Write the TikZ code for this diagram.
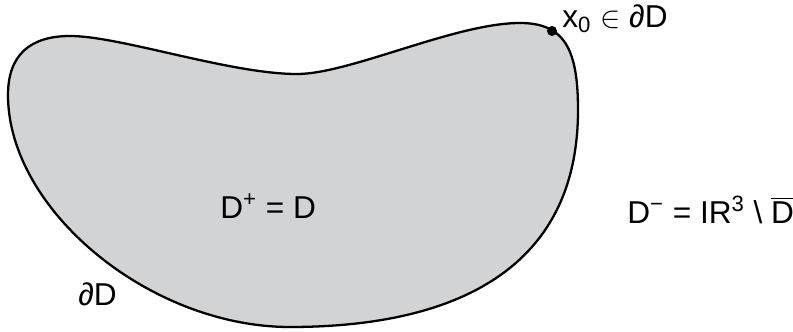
\documentclass[tikz,border=0pt]{standalone}
\usepackage{fontspec}
\setmainfont{Liberation Sans}
\definecolor{regionfill}{RGB}{209,211,212}
\tikzset{
  region-label/.style={font=\fontsize{18}{20}\selectfont,inner sep=0pt,anchor=base west},
}

\begin{document}
\begin{tikzpicture}[x=0.02cm,y=-0.02cm]
\useasboundingbox (0,0) rectangle (793,331);
\path[fill=regionfill,draw=black,line width=1.3pt] (8,95) .. controls (8,55) and (30,36) .. (70,36)
  .. controls (120,36) and (230,74) .. (297,74)
  .. controls (350,74) and (455,23) .. (520,23)
  .. controls (565,23) and (578,50) .. (578,110)
  .. controls (578,285) and (430,327) .. (290,327)
  .. controls (150,327) and (8,210) .. (8,95) -- cycle;
\coordinate (x0-point) at (552,31);
\fill[black] (x0-point) circle[radius=0.1cm];
\node[region-label] (x0-label) at (562,28) {x\textsubscript{0} $\in$ ∂D};
\node[region-label] (interior-label) at (220,218) {D\textsuperscript{+} = D};
\node[region-label] (exterior-label) at (627,223) {D\textsuperscript{−} = IR\textsuperscript{3} \textbackslash{} $\overline{\mbox{D}}$};
\node[region-label] (boundary-label) at (78,305) {∂D};
\end{tikzpicture}
\end{document}
